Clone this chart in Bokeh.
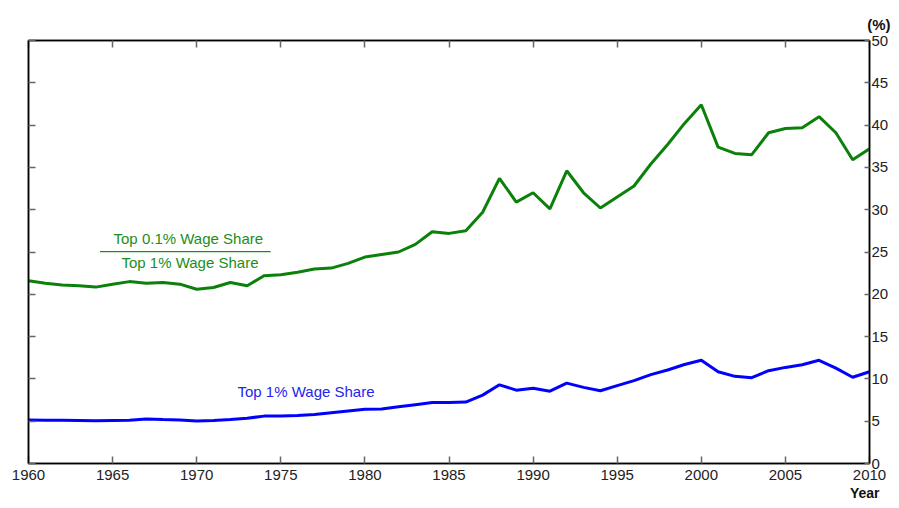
from bokeh.plotting import figure
from bokeh.models import LinearAxis, Label, Range1d, FixedTicker, ColumnDataSource, Title
from bokeh.embed import file_html
from bokeh.resources import INLINE

years = list(range(1960, 2011))
top01_over_top1 = [21.6, 21.3, 21.1, 21.0, 20.85, 21.2, 21.5, 21.3, 21.4, 21.2,
                   20.6, 20.8, 21.4, 21.0, 22.2, 22.3, 22.6, 23.0, 23.1, 23.65,
                   24.4, 24.7, 25.0, 25.9, 27.4, 27.2, 27.5, 29.7, 33.7, 30.9,
                   32.0, 30.1, 34.6, 32.0, 30.2, 31.5, 32.8, 35.4, 37.7, 40.2,
                   42.4, 37.4, 36.65, 36.5, 39.1, 39.6, 39.7, 41.0, 39.1, 35.9,
                   37.2]
top1_share = [5.15, 5.12, 5.1, 5.08, 5.05, 5.08, 5.1, 5.27, 5.2, 5.15,
              5.03, 5.08, 5.2, 5.35, 5.6, 5.6, 5.66, 5.8, 6.0, 6.2,
              6.4, 6.45, 6.7, 6.95, 7.2, 7.2, 7.26, 8.08, 9.3, 8.67,
              8.9, 8.55, 9.5, 9.0, 8.6, 9.2, 9.8, 10.5, 11.05, 11.7,
              12.2, 10.85, 10.3, 10.15, 10.97, 11.36, 11.67, 12.2, 11.28, 10.2,
              10.85]
x_ticks = list(range(1960, 2011, 5))
y_ticks = list(range(0, 51, 5))

FONT = "Liberation Sans"
GREEN = "#0b800b"
GREEN_TXT = "#1a8f1a"
BLUE = "#0000ff"
BLUE_TXT = "#2424f0"

p = figure(width=891, height=500, output_backend="svg", toolbar_location=None,
           x_range=Range1d(1960, 2010), y_range=Range1d(0, 50),
           y_axis_location="right", min_border_left=28, min_border_top=40,
           min_border_bottom=35, min_border_right=0)
p.grid.visible = False
p.outline_line_color = "black"
p.outline_line_width = 1.5
p.background_fill_color = "white"
p.border_fill_color = "white"

p.title.text = "(%)"
p.title.align = "right"
p.title.offset = -21
p.title.standoff = 16
p.title.text_font = FONT
p.title.text_font_size = "15px"
p.title.text_font_style = "bold"
p.title.text_color = "#111111"

def style_axis(ax, ticks, labels=True):
    ax.ticker = FixedTicker(ticks=ticks)
    ax.major_tick_in = 7
    ax.major_tick_out = 0
    ax.major_tick_line_color = "#666666"
    ax.major_tick_line_width = 1.5
    ax.minor_tick_line_color = None
    ax.axis_line_color = "black"
    ax.axis_line_width = 1.5
    ax.major_label_text_font = FONT
    ax.major_label_text_font_size = "15px"
    ax.major_label_text_color = "#222222"
    if not labels:
        ax.major_label_overrides = {t: "" for t in ticks}
        ax.major_label_standoff = 0

style_axis(p.xaxis[0], x_ticks)
p.xaxis[0].major_label_standoff = 6
style_axis(p.yaxis[0], y_ticks)
p.yaxis[0].major_tick_in = 5
p.yaxis[0].major_label_standoff = 2

left_ax = LinearAxis()
style_axis(left_ax, y_ticks, labels=False)
p.add_layout(left_ax, "left")
top_ax = LinearAxis()
style_axis(top_ax, x_ticks, labels=False)
p.add_layout(top_ax, "above")

year_title = Title(text="Year", align="right", offset=-10, standoff=0,
                   text_font=FONT, text_font_size="14px", text_font_style="bold",
                   text_color="#111111")
p.add_layout(year_title, "below")

src = ColumnDataSource(dict(year=years, g=top01_over_top1, b=top1_share))
p.line("year", "g", source=src, line_color=GREEN, line_width=3)
p.line("year", "b", source=src, line_color=BLUE, line_width=3)

# fraction label
p.segment(x0=[1964.25], y0=[25.05], x1=[1974.4], y1=[25.05], line_color=GREEN_TXT, line_width=1.2)
for txt, xx, yy, col in [("Top 0.1% Wage Share", 1969.5, 26.6, GREEN_TXT),
                          ("Top 1% Wage Share", 1969.6, 23.75, GREEN_TXT),
                          ("Top 1% Wage Share", 1976.5, 8.55, BLUE_TXT)]:
    p.add_layout(Label(x=xx, y=yy, text=txt, text_align="center", text_baseline="middle",
                       text_font=FONT, text_font_size="15px", text_color=col))

open("out.html", "w").write(file_html(p, INLINE))
